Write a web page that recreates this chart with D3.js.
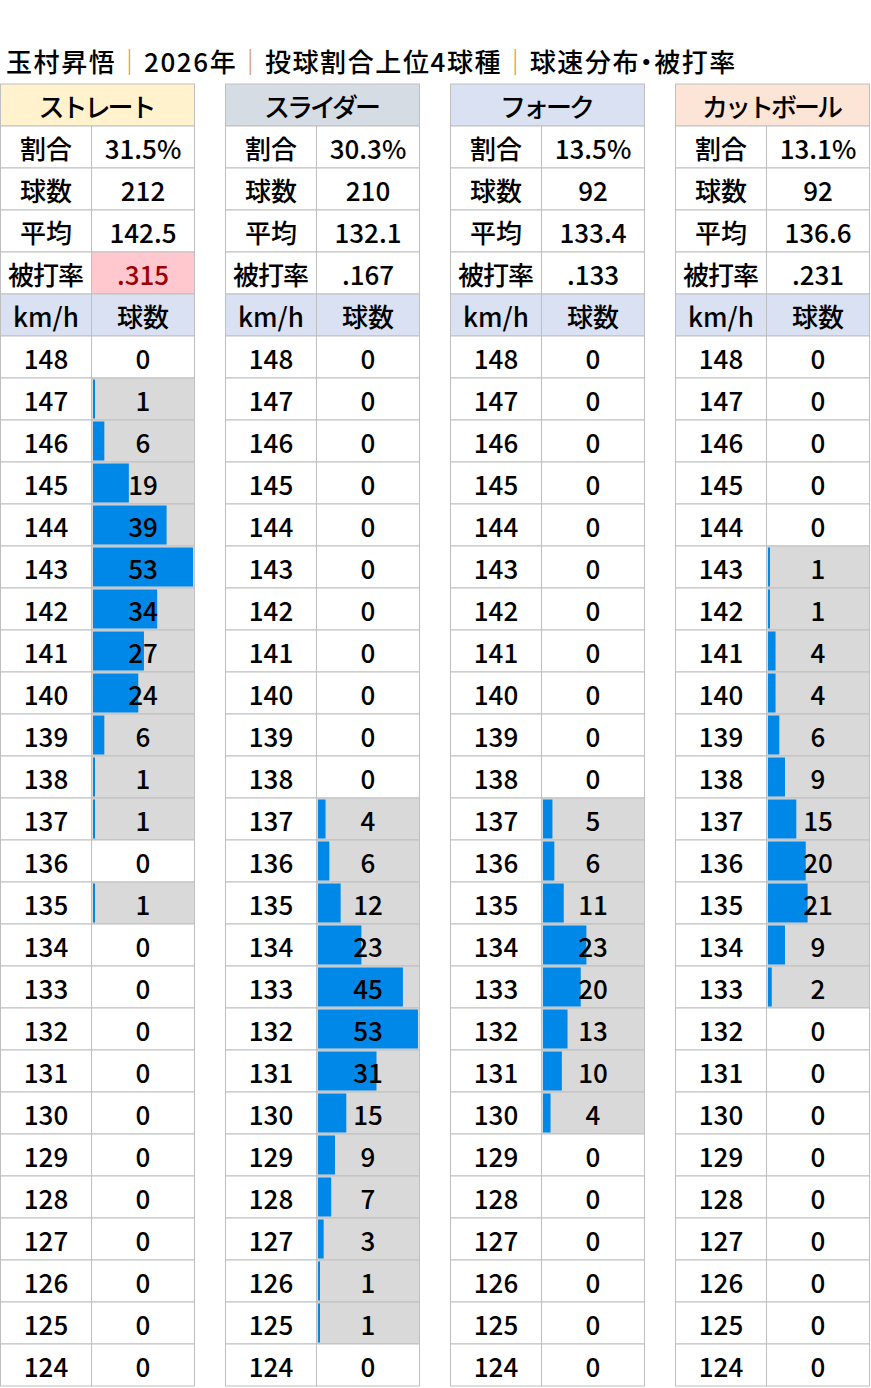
<!DOCTYPE html>
<html>
<head>
<meta charset="utf-8">
<script src="https://cdn.jsdelivr.net/npm/d3@7"></script>
<style>
  body { margin: 0; background: #fff; }
  svg { display: block; font-family: "Noto Sans CJK JP", "Noto Sans", sans-serif; }
</style>
</head>
<body>
<svg id="chart"></svg>
<script>
const titleParts = ["玉村昇悟", "2026年", "投球割合上位4球種", "球速分布・被打率"];
const pitchNames = ["ストレート", "スライダー", "フォーク", "カットボール"];
const headerColors = ["#FFF2CC", "#D6DCE4", "#D9E1F2", "#FCE4D6"];
const shares = ["31.5%", "30.3%", "13.5%", "13.1%"];
const totals = ["212", "210", "92", "92"];
const averages = ["142.5", "132.1", "133.4", "136.6"];
const battingAvg = [".315", ".167", ".133", ".231"];
const highlightBA = [true, false, false, false];
const speeds = d3.range(148, 123, -1);
const counts = [
  [0, 1, 6, 19, 39, 53, 34, 27, 24, 6, 1, 1, 0, 1, 0, 0, 0, 0, 0, 0, 0, 0, 0, 0, 0],
  [0, 0, 0, 0, 0, 0, 0, 0, 0, 0, 0, 4, 6, 12, 23, 45, 53, 31, 15, 9, 7, 3, 1, 1, 0],
  [0, 0, 0, 0, 0, 0, 0, 0, 0, 0, 0, 5, 6, 11, 23, 20, 13, 10, 4, 0, 0, 0, 0, 0, 0],
  [0, 0, 0, 0, 0, 1, 1, 4, 4, 6, 9, 15, 20, 21, 9, 2, 0, 0, 0, 0, 0, 0, 0, 0, 0]
];

const width = 871, height = 1388;
const svg = d3.select("#chart").attr("width", width).attr("height", height);

const tableW = 194, col1 = 91, rowH = 42, topY = 84;
const xTable = d3.scaleLinear().domain([0, 1]).range([0.5, 225.5]);
const nRows = 6 + speeds.length;
const yRow = d3.scaleBand().domain(d3.range(nRows)).range([topY, topY + rowH * nRows]);
const maxCount = d3.max(counts.flat());
const barW = d3.scaleLinear().domain([0, maxCount]).range([0, tableW - col1 - 3]);

const grid = "#BFBFBF";
const fontSize = 26;
const weight = 500;

// title
const title = svg.append("text")
  .attr("x", 6).attr("y", 72)
  .attr("font-size", 26).attr("font-weight", weight)
  .attr("letter-spacing", 1.6).attr("fill", "#000");
titleParts.forEach((p, i) => {
  if (i > 0) title.append("tspan").attr("fill", "#D9954A").text("｜");
  // narrow middle dot like the original
  p.split("・").forEach((seg, j) => {
    if (j > 0) title.append("tspan").attr("dx", -7).attr("letter-spacing", -5).text("・");
    title.append("tspan").attr("letter-spacing", 1.6).text(seg);
  });
});

function cellText(sel, x, y, txt, color) {
  return sel.append("text").attr("x", x).attr("y", y)
    .attr("text-anchor", "middle").attr("dominant-baseline", "central")
    .attr("font-size", fontSize).attr("font-weight", weight)
    .attr("fill", color || "#000").text(txt);
}

pitchNames.forEach((name, k) => {
  const g = svg.append("g").attr("transform", `translate(${xTable(k)},0)`);

  // header
  g.append("rect").attr("x", 0).attr("y", yRow(0)).attr("width", tableW).attr("height", rowH)
    .attr("fill", headerColors[k]).attr("stroke", grid);
  cellText(g, tableW / 2 - 1.5, yRow(0) + rowH / 2, name).attr("letter-spacing", -3);

  const stats = [
    ["割合", shares[k]],
    ["球数", totals[k]],
    ["平均", averages[k]],
    ["被打率", battingAvg[k]],
    ["km/h", "球数"]
  ];
  stats.forEach((s, i) => {
    const y = yRow(i + 1);
    const isHead = i === 4;
    const hl = i === 3 && highlightBA[k];
    g.append("rect").attr("x", 0).attr("y", y).attr("width", col1).attr("height", rowH)
      .attr("fill", isHead ? "#D9E1F2" : "#fff").attr("stroke", grid);
    g.append("rect").attr("x", col1).attr("y", y).attr("width", tableW - col1).attr("height", rowH)
      .attr("fill", isHead ? "#D9E1F2" : hl ? "#FFC7CE" : "#fff").attr("stroke", grid);
    const t = cellText(g, col1 / 2, y + rowH / 2, s[0]);
    if (s[0] === "被打率") t.attr("letter-spacing", -1).attr("x", col1 / 2 - 0.5);
    cellText(g, col1 + (tableW - col1) / 2, y + rowH / 2, s[1], hl ? "#9C0006" : "#000");
  });

  const rows = g.selectAll("g.speed")
    .data(speeds.map((sp, i) => ({ sp, c: counts[k][i], i })))
    .enter().append("g").attr("class", "speed")
    .attr("transform", d => `translate(0,${yRow(d.i + 6)})`);

  rows.append("rect").attr("width", col1).attr("height", rowH)
    .attr("fill", "#fff").attr("stroke", grid);
  rows.append("rect").attr("x", col1).attr("width", tableW - col1).attr("height", rowH)
    .attr("fill", d => d.c > 0 ? "#D9D9D9" : "#fff").attr("stroke", grid);
  rows.filter(d => d.c > 0).append("rect")
    .attr("x", col1 + 1.5).attr("y", 1.5)
    .attr("width", d => Math.max(2, barW(d.c))).attr("height", rowH - 3)
    .attr("fill", "#0088E8");
  rows.each(function (d) {
    const r = d3.select(this);
    cellText(r, col1 / 2, rowH / 2, d.sp);
    cellText(r, col1 + (tableW - col1) / 2, rowH / 2, d.c);
  });
});
</script>
</body>
</html>
